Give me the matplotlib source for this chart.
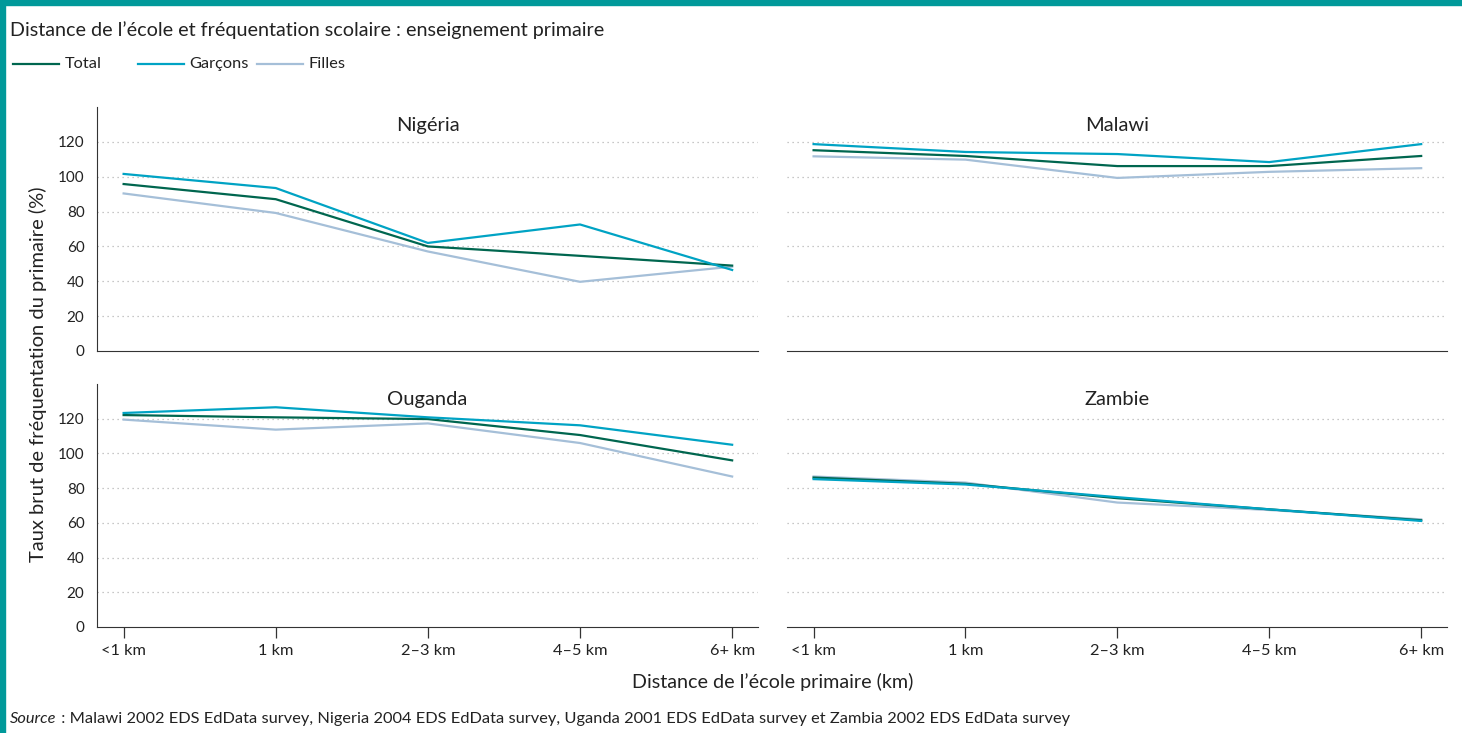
import matplotlib
matplotlib.use("Agg")
import matplotlib.pyplot as plt
from matplotlib.lines import Line2D
from matplotlib.patches import Rectangle

distances = ["<1 km", "1 km", "2\u20133 km", "4\u20135 km", "6+ km"]
countries = ["Nigéria", "Malawi", "Ouganda", "Zambie"]

total = {
    "Nigéria": [95.8, 87.1, 60.0, 54.6, 49.0],
    "Malawi": [115.2, 111.9, 106.1, 106.1, 111.9],
    "Ouganda": [122.1, 120.8, 119.8, 110.6, 96.0],
    "Zambie": [86.1, 82.5, 74.2, 67.8, 61.5],
}
garcons = {
    "Nigéria": [101.6, 93.5, 62.0, 72.6, 46.5],
    "Malawi": [118.7, 114.2, 113.0, 108.4, 118.7],
    "Ouganda": [123.3, 126.6, 120.8, 116.2, 105.0],
    "Zambie": [85.2, 82.1, 74.8, 67.8, 61.1],
}
filles = {
    "Nigéria": [90.4, 79.2, 57.1, 39.7, 48.4],
    "Malawi": [111.7, 109.8, 99.3, 102.8, 104.9],
    "Ouganda": [119.5, 113.7, 117.3, 106.0, 86.7],
    "Zambie": [86.7, 83.2, 71.7, 67.4, 62.0],
}
yticks = [0, 20, 40, 60, 80, 100, 120]
series_names = ["Total", "Garçons", "Filles"]

c_total = "#00664f"
c_garcons = "#00a3c4"
c_filles = "#a5bfd8"
teal = "#00999a"
txt = "#222222"

plt.rcParams["font.family"] = ["Lato", "DejaVu Sans"]

W, H = 1462, 733
fig = plt.figure(figsize=(W / 100, H / 100), dpi=100)

# teal frame on top and left
fig.patches.append(Rectangle((0, 1 - 5 / H), 1, 5 / H, transform=fig.transFigure,
                             color=teal, zorder=0))
fig.patches.append(Rectangle((0, 0), 5 / W, 1, transform=fig.transFigure,
                             color=teal, zorder=0))

# pixel boxes: left, top, right, bottom
boxes = {
    "Nigéria": (97, 107, 758, 351),
    "Malawi": (787, 107, 1447, 351),
    "Ouganda": (97, 384, 758, 627),
    "Zambie": (787, 384, 1447, 627),
}

x = list(range(len(distances)))
for i, name in enumerate(countries):
    l, t, r, b = boxes[name]
    ax = fig.add_axes([l / W, 1 - b / H, (r - l) / W, (b - t) / H])
    ax.plot(x, filles[name], color=c_filles, lw=1.6, zorder=3)
    ax.plot(x, total[name], color=c_total, lw=1.6, zorder=4)
    ax.plot(x, garcons[name], color=c_garcons, lw=1.6, zorder=5)
    ax.set_ylim(0, 140)
    ax.set_xlim(-0.175, 4.17)
    ax.set_yticks(yticks)
    for v in yticks[1:]:
        ax.axhline(v, color="#b5b5b5", lw=0.9, ls=(0, (1, 3)), zorder=1)
    for s in ["top", "right"]:
        ax.spines[s].set_visible(False)
    ax.spines["bottom"].set_color("#333333")
    ax.spines["left"].set_color("#333333")
    left_col = i % 2 == 0
    bottom_row = i >= 2
    if not left_col:
        ax.spines["left"].set_visible(False)
        ax.set_yticklabels([])
    ax.tick_params(axis="y", length=0, labelsize=11, colors=txt, pad=9)
    ax.set_xticks(x)
    if bottom_row:
        ax.set_xticklabels(distances)
        ax.tick_params(axis="x", length=8, width=0.9, color="#333333",
                       labelsize=11.8, labelcolor=txt, pad=4)
    else:
        ax.tick_params(axis="x", length=0, labelbottom=False)
    ty = 0.926 if not bottom_row else 0.935
    ax.text(0.5, ty, name, transform=ax.transAxes, ha="center", va="center",
            fontsize=14.5, color=txt)

fig.text(10 / W, 1 - 30 / H, "Distance de l\u2019école et fréquentation scolaire : enseignement primaire",
         ha="left", va="center", fontsize=14.2, color=txt)

# legend, placed by hand to keep the uneven spacing
leg_y = 1 - 64 / H
leg_items = [(13, 59, 65, c_total), (138, 184, 189, c_garcons), (257, 303, 308, c_filles)]
for (x0, x1, tx, c), lab in zip(leg_items, series_names):
    fig.add_artist(Line2D([x0 / W, x1 / W], [leg_y, leg_y], color=c, lw=1.6,
                          transform=fig.transFigure))
    fig.text(tx / W, leg_y, lab, ha="left", va="center", fontsize=11.8, color=txt)

fig.text(38 / W, 1 - 374 / H, "Taux brut de fréquentation du primaire (%)",
         rotation=90, ha="center", va="center", fontsize=14.5, color=txt)
fig.text(773 / W, 1 - 682 / H, "Distance de l\u2019école primaire (km)",
         ha="center", va="center", fontsize=14.2, color=txt)

src = fig.text(10 / W, 1 - 719 / H, "Source", style="italic",
               ha="left", va="center", fontsize=11.8, color=txt)
fig.canvas.draw()
bb = src.get_window_extent()
fig.text(bb.x1 / W, 1 - 719 / H,
         " : Malawi 2002 EDS EdData survey, Nigeria 2004 EDS EdData survey, "
         "Uganda 2001 EDS EdData survey et Zambia 2002 EDS EdData survey",
         ha="left", va="center", fontsize=11.8, color=txt)

fig.savefig("out.png", dpi=100)
